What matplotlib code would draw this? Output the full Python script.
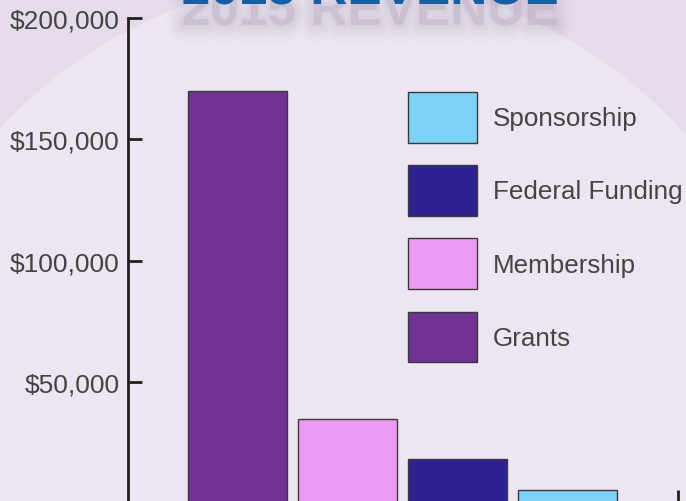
import matplotlib.pyplot as plt
import matplotlib.patheffects as pe
from matplotlib.patches import Circle, Rectangle

# Datos
categorias = ['Grants', 'Membership', 'Federal Funding', 'Sponsorship']
ingresos = [170000, 35000, 18500, 5500]
colores = ['#713393', '#ec99f2', '#2e2192', '#7dd3f5']
ticks_y = [50000, 100000, 150000, 200000]
titulo = '2015 REVENUE'

W, H = 686, 502
plt.rcParams['font.family'] = ['Liberation Sans', 'DejaVu Sans']

fig = plt.figure(figsize=(W / 100, H / 100), dpi=100)
fig.patch.set_facecolor('#e5dbeb')

# Fondo con circulo claro
bg = fig.add_axes([0, 0, 1, 1], zorder=-1)
bg.set_xlim(0, W)
bg.set_ylim(H, 0)
bg.axis('off')
bg.add_patch(Circle((340, 442), 462, facecolor='#ede5f1', edgecolor='none'))

# Titulo (cortado arriba) con sombra difusa: varias capas grises anchas y transparentes
gris = '#8c7f96'
sombra = []
for lw, a in [(24, 0.03), (18, 0.035), (13, 0.04), (8, 0.04), (4, 0.04)]:
    sombra.append(pe.SimplePatchShadow(offset=(0, -15), shadow_rgbFace=gris, alpha=a,
                                       linewidth=lw, foreground=gris))
sombra.append(pe.Normal())
fig.text(370 / W, 1 - 5 / H, titulo, ha='center', va='baseline',
         fontsize=37, fontweight='bold', color='#1560a5', path_effects=sombra)

# Ejes
ax = fig.add_axes([127.7 / W, -2.7 / H, 550 / W, 485.7 / H])
ax.set_facecolor('none')
x = list(range(len(categorias)))
ax.bar(x, ingresos, width=0.905, color=colores, edgecolor='#3a3a3a', linewidth=1, zorder=2)
ax.set_xlim(-1, 4)
ax.set_ylim(0, 200000)

for lado in ['top', 'right']:
    ax.spines[lado].set_visible(False)
for lado in ['left', 'bottom']:
    ax.spines[lado].set_linewidth(2)
    ax.spines[lado].set_color('#231f20')

ax.set_yticks(ticks_y)
ax.set_yticklabels(['${:,}'.format(v) for v in ticks_y])
ax.tick_params(axis='y', direction='in', length=10, width=2, color='#231f20',
               labelsize=19, labelcolor='#444444', pad=6)
ax.set_xticks([4])
ax.set_xticklabels([''])
ax.tick_params(axis='x', direction='in', length=10, width=2, color='#231f20')

# Leyenda en orden inverso
handles = [Rectangle((0, 0), 1, 1, facecolor=c, edgecolor='#3a3a3a', linewidth=1) for c in colores]
ax.legend(handles[::-1], categorias[::-1], loc='upper left',
          bbox_to_anchor=(408 / W, 1 - 93 / H), bbox_transform=fig.transFigure,
          frameon=False, fontsize=18.7, handlelength=2.66, handleheight=2.62,
          labelspacing=0.87, handletextpad=0.62, borderpad=0, borderaxespad=0,
          labelcolor='#444444')

plt.savefig('out.png', dpi=100, facecolor=fig.get_facecolor())
plt.close()
